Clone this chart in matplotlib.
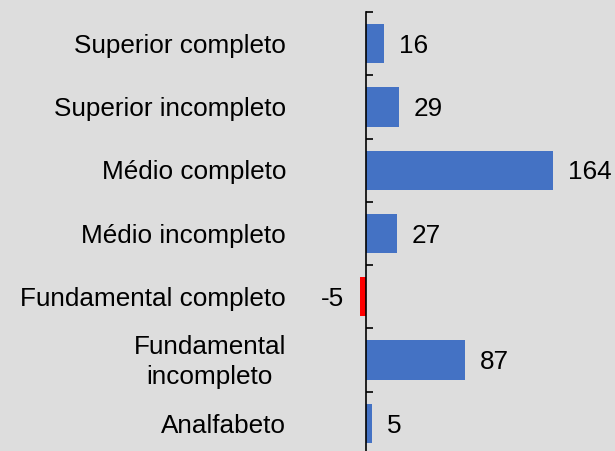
import numpy as np
import matplotlib.pyplot as plt

plt.rcParams['font.family'] = ['Liberation Sans', 'DejaVu Sans']

categories = ["Superior completo", "Superior incompleto", "Médio completo",
              "Médio incompleto", "Fundamental completo",
              "Fundamental\nincompleto", "Analfabeto"]
values = [16, 29, 164, 27, -5, 87, 5]

W, H = 615, 451
fig = plt.figure(figsize=(W / 100, H / 100), dpi=100, facecolor="#dddddd")

# axes placed in pixel terms: zero line at x=366, 1.14 px per unit
x0, ppu = 366, 1.14
left_px, right_px = 300, 612
top_px, bot_px = 12, 455
ax = fig.add_axes([left_px / W, 1 - bot_px / H,
                   (right_px - left_px) / W, (bot_px - top_px) / H])
ax.set_facecolor("none")
ax.set_xlim((left_px - x0) / ppu, (right_px - x0) / ppu)

y = np.arange(len(categories))
colors = ["#4472c4" if v >= 0 else "#ff0000" for v in values]
ax.barh(y, values, height=0.62, color=colors)
ax.set_ylim(len(categories) - 0.5, -0.5)

fs = 18.8
dy = 0.035  # text sits a touch below bar centre
for yi, v in zip(y, values):
    if v >= 0:
        ax.text(v + 15 / ppu, yi + dy, str(v), va="center", ha="left", fontsize=fs)
    else:
        ax.text(v - 16 / ppu, yi + dy, str(v), va="center", ha="right", fontsize=fs)

for s in ["top", "right", "bottom"]:
    ax.spines[s].set_visible(False)
ax.spines["left"].set_position(("data", 0))
ax.spines["left"].set_linewidth(1.2)
ax.set_xticks([])

ax.set_yticks(y)
ax.set_yticklabels([])
ax.tick_params(axis="y", which="major", length=0)
ax.set_yticks(np.arange(-0.5, len(categories) + 0.5, 1), minor=True)
ax.tick_params(axis="y", which="minor", direction="in", length=5, width=1.2)

for yi, c in zip(y, categories):
    ax.text((286 - x0) / ppu, yi + dy, c, va="center", ha="right",
            multialignment="center", fontsize=fs, linespacing=1.3)

fig.savefig("out.png", dpi=100, facecolor=fig.get_facecolor())
